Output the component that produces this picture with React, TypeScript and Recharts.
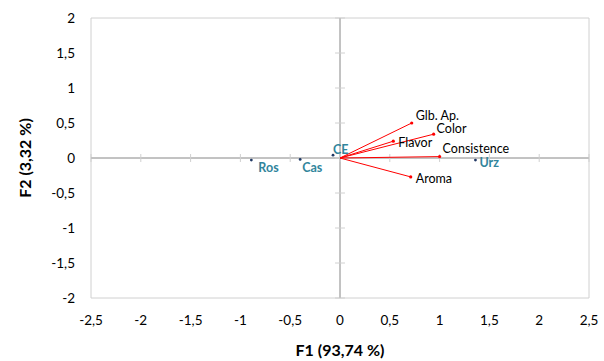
import React from "react";
import {
  ScatterChart,
  Scatter,
  XAxis,
  YAxis,
  ReferenceLine,
} from "recharts";

// observations (factor scores)
const obsNames = ["Ros", "Cas", "CE", "Urz"];
const obsF1 = [-0.89, -0.4, -0.07, 1.36];
const obsF2 = [-0.03, -0.02, 0.04, -0.03];

// variables (loadings)
const varNames = ["Glb. Ap.", "Color", "Flavor", "Consistence", "Aroma"];
const varF1 = [0.72, 0.94, 0.535, 1.0, 0.71];
const varF2 = [0.5, 0.34, 0.24, 0.02, -0.27];

const xTicks = [-2.5, -2, -1.5, -1, -0.5, 0, 0.5, 1, 1.5, 2, 2.5];
const yTicks = [-2, -1.5, -1, -0.5, 0, 0.5, 1, 1.5, 2];

const observations = obsNames.map((name, i) => ({ name, x: obsF1[i], y: obsF2[i] }));
const variables = varNames.map((name, i) => ({ name, x: varF1[i], y: varF2[i] }));

// label placement relative to the point (px)
const labelOffset: Record<string, [number, number]> = {
  "Glb. Ap.": [4, -8],
  Color: [3, -6],
  Flavor: [5, 1],
  Consistence: [3, -8],
  Aroma: [5, 2],
  Urz: [4, 2],
  Ros: [7, 7],
  Cas: [2, 8],
  CE: [0, -6],
};

const FONT = "Lato, 'Noto Sans', sans-serif";
const fmt = (v: number) => String(v).replace(".", ",");
const AXIS = "#868686";
const FRAME = "#d0d0d0";

const varShape = (p: any) => {
  const [dx, dy] = labelOffset[p.payload.name] || [4, 0];
  return (
    <g>
      <circle cx={p.cx} cy={p.cy} r={1.6} fill="#ff0000" />
      <text
        x={p.cx + dx}
        y={p.cy + dy}
        dominantBaseline="central"
        fontSize={12.5}
        fontFamily={FONT}
        fill="#000"
      >
        {p.payload.name}
      </text>
    </g>
  );
};

const obsShape = (p: any) => {
  const [dx, dy] = labelOffset[p.payload.name] || [4, 0];
  return (
    <g>
      <circle cx={p.cx} cy={p.cy} r={1.4} fill="#203864" />
      <text
        x={p.cx + dx}
        y={p.cy + dy}
        dominantBaseline="central"
        fontSize={12.5}
        fontWeight="bold"
        fontFamily={FONT}
        fill="#31859c"
      >
        {p.payload.name}
      </text>
    </g>
  );
};

export default function App() {
  return (
    <div style={{ position: "absolute", left: 0, top: 0, background: "#fff" }}>
      <ScatterChart
        width={604}
        height={361}
        margin={{ top: 18, right: 15, bottom: 23, left: 31 }}
      >
        <XAxis
          type="number"
          dataKey="x"
          domain={[-2.5, 2.5]}
          ticks={xTicks}
          tickFormatter={fmt}
          axisLine={false}
          tickLine={false}
          tickSize={0}
          tickMargin={17}
          height={40}
          interval={0}
          tick={{ fill: "#000", fontSize: 13.5, fontFamily: FONT }}
          allowDataOverflow
          label={{
            value: "F1 (93,74 %)",
            position: "bottom",
            offset: 7,
            fill: "#000",
            fontSize: 16,
            fontWeight: "bold",
            fontFamily: FONT,
          }}
        />
        <YAxis
          type="number"
          dataKey="y"
          domain={[-2, 2]}
          ticks={yTicks}
          tickFormatter={fmt}
          axisLine={false}
          tickLine={false}
          tickSize={0}
          tickMargin={16}
          width={60}
          interval={0}
          tick={{ fill: "#000", fontSize: 13.5, fontFamily: FONT }}
          allowDataOverflow
          label={{
            content: (props: any) => {
              const vb = props.viewBox || {};
              const cy = vb.y + vb.height / 2;
              return (
                <text
                  x={24}
                  y={cy}
                  transform={`rotate(-90, 24, ${cy})`}
                  textAnchor="middle"
                  dominantBaseline="central"
                  fontSize={16}
                  fontWeight="bold"
                  fontFamily={FONT}
                  fill="#000"
                >
                  F2 (3,32 %)
                </text>
              );
            },
          }}
        />

        {/* frame */}
        <ReferenceLine x={-2.5} stroke={FRAME} />
        <ReferenceLine x={2.5} stroke={FRAME} />
        <ReferenceLine y={2} stroke={FRAME} />
        <ReferenceLine y={-2} stroke={FRAME} />

        {/* axes through origin */}
        <ReferenceLine x={0} stroke={AXIS} />
        <ReferenceLine y={0} stroke={AXIS} />
        {xTicks.map((t) => (
          <ReferenceLine
            key={`xt${t}`}
            segment={[
              { x: t, y: -0.057 },
              { x: t, y: 0.057 },
            ]}
            stroke={FRAME}
            ifOverflow="visible"
          />
        ))}
        {yTicks.map((t) => (
          <ReferenceLine
            key={`yt${t}`}
            segment={[
              { x: -0.05, y: t },
              { x: 0.05, y: t },
            ]}
            stroke={FRAME}
            ifOverflow="visible"
          />
        ))}

        {/* loading vectors */}
        {variables.map((v) => (
          <ReferenceLine
            key={`v${v.name}`}
            segment={[
              { x: 0, y: 0 },
              { x: v.x, y: v.y },
            ]}
            stroke="#ff0000"
            strokeWidth={1}
            ifOverflow="visible"
          />
        ))}

        <Scatter
          data={variables}
          shape={varShape}
          isAnimationActive={false}
        />
        <Scatter
          data={observations}
          shape={obsShape}
          isAnimationActive={false}
        />
      </ScatterChart>
    </div>
  );
}
